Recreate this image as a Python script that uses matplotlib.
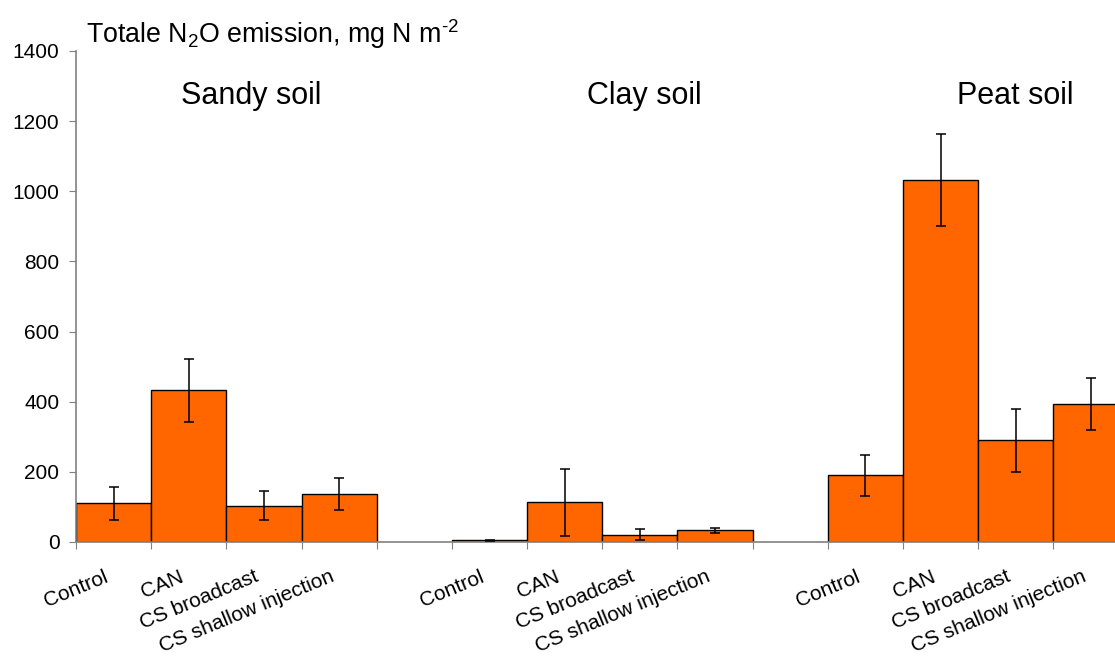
import numpy as np
import matplotlib
matplotlib.use('Agg')
import matplotlib.pyplot as plt

plt.rcParams['font.family'] = ['Liberation Sans', 'DejaVu Sans']
plt.rcParams['mathtext.fontset'] = 'custom'
plt.rcParams['mathtext.rm'] = 'Liberation Sans'
plt.rcParams['mathtext.it'] = 'Liberation Sans:italic'

soils = ['Sandy soil', 'Clay soil', 'Peat soil']
treatments = ['Control', 'CAN', 'CS broadcast', 'CS shallow injection']

# total N2O emission (mg N m-2) and error bars, one list per soil
sandy = [110, 432, 104, 136]
sandy_err = [48, 90, 40, 46]
clay = [5, 113, 21, 33]
clay_err = [2, 96, 15, 6]
peat = [190, 1033, 290, 393]
peat_err = [58, 131, 90, 75]

values = [sandy, clay, peat]
errors = [sandy_err, clay_err, peat_err]

fig = plt.figure(figsize=(11.15, 6.62), dpi=100)
ax = fig.add_axes([0.0682, 0.1813, 0.9318, 0.7417])

grey = '#808080'
soil_label_x = [2.33, 2.56, 2.49]
for g, (vals, errs) in enumerate(zip(values, errors)):
    start = g * (len(treatments) + 1)
    x = start + np.arange(len(treatments))
    ax.bar(x, vals, width=1.0, align='edge', color='#FF6600',
           edgecolor='black', linewidth=1.0, zorder=2)
    ax.errorbar(x + 0.5, vals, yerr=errs, fmt='none', ecolor='black',
                elinewidth=1.1, capsize=3.3, capthick=1.1, zorder=3)
    for xi, lab in zip(x, treatments):
        ax.text(xi + 0.37, -72, lab, rotation=22.5, rotation_mode='anchor',
                ha='right', va='top', fontsize=15)
    ax.text(start + soil_label_x[g], 1250, soils[g], ha='center',
            va='baseline', fontsize=22)

ax.set_xlim(0, 13.82)
ax.set_ylim(0, 1400)
ax.set_yticks(np.arange(0, 1401, 200))
ax.set_xticks(np.arange(0, 14))
ax.set_xticklabels([])
ax.tick_params(axis='y', labelsize=15, length=5, color=grey, pad=7)
ax.tick_params(axis='x', length=5, color=grey)
for side in ['top', 'right']:
    ax.spines[side].set_visible(False)
for side in ['left', 'bottom']:
    ax.spines[side].set_color(grey)
    ax.spines[side].set_linewidth(1.2)
ax.patch.set_visible(False)

fig.text(0.0771, 0.9358, r'Totale N$_2$O emission, mg N m$^{\text{-2}}$',
         fontsize=19.3, ha='left', va='baseline')

fig.savefig('out.png', dpi=100)
